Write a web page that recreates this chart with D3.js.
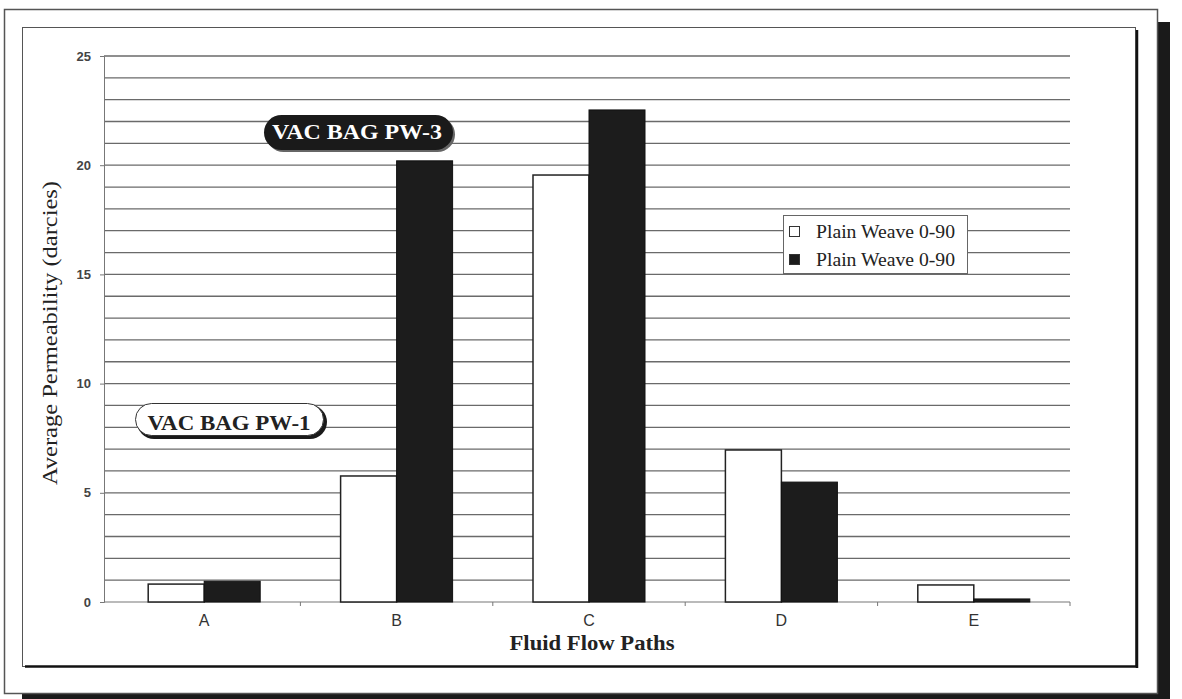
<!DOCTYPE html>
<html><head><meta charset="utf-8">
<script src="https://cdn.jsdelivr.net/npm/d3@7"></script>
<style>body{margin:0;background:#fff}svg{display:block}</style>
</head><body>
<svg id="c" width="1182" height="699"></svg>
<script>
const categories = ["A","B","C","D","E"];
const seriesNames = ["Plain Weave 0-90","Plain Weave 0-90"];
const seriesWhite = [0.82, 5.77, 19.55, 6.96, 0.78];
const seriesBlack = [0.95, 20.2, 22.53, 5.49, 0.14];
const yTicks = [0,5,10,15,20,25];
const gridVals = d3.range(0,26,1);

const svg = d3.select("#c");
const L=108, R=1070, T=56, B=602;
const x = d3.scaleBand().domain(categories).range([L,R]);
const sub = d3.scaleBand().domain([0,1]).range([0,112]);
const y = d3.scaleLinear().domain([0,25]).range([B,T]);
const serif = "Liberation Serif, Times New Roman, serif";
const sans = "Liberation Sans, Arial, sans-serif";

// outer frame + shadow
svg.append("rect").attr("x",1158).attr("y",22).attr("width",12).attr("height",677).attr("fill","#1a1a1a");
svg.append("rect").attr("x",22).attr("y",694).attr("width",1148).attr("height",5).attr("fill","#1a1a1a");
svg.append("rect").attr("x",4.5).attr("y",9.5).attr("width",1153).attr("height",684).attr("fill","#fff").attr("stroke","#555").attr("stroke-width",1.5);
// inner frame
svg.append("rect").attr("x",22.5).attr("y",27.5).attr("width",1113).attr("height",639).attr("fill","#fff").attr("stroke","#555").attr("stroke-width",1);
svg.append("line").attr("x1",1137).attr("x2",1137).attr("y1",30).attr("y2",668).attr("stroke","#111").attr("stroke-width",2.5);
svg.append("line").attr("x1",25).attr("x2",1138).attr("y1",666.5).attr("y2",666.5).attr("stroke","#111").attr("stroke-width",2.5);

// gridlines
svg.append("g").selectAll("line").data(gridVals.filter(d=>d>0)).join("line")
  .attr("x1",104).attr("x2",R).attr("y1",d=>y(d)).attr("y2",d=>y(d))
  .attr("stroke","#6a6a6a").attr("stroke-width",1.3);

// y axis
const ya = svg.append("g").attr("transform",`translate(104,0)`)
  .call(d3.axisLeft(y).tickValues(yTicks).tickSize(4).tickFormat(d3.format("d")));
ya.select(".domain").attr("stroke","#777");
ya.selectAll(".tick line").attr("stroke","#777");
ya.selectAll("text").attr("font-family",sans).attr("font-size",13).attr("font-weight","bold").attr("fill","#444").attr("dx",-6);

// x axis
svg.append("line").attr("x1",104).attr("x2",R).attr("y1",B).attr("y2",B).attr("stroke","#777").attr("stroke-width",1.2);
svg.append("g").selectAll("line").data(categories).join("line")
  .attr("x1",(d,i)=>L+x.step()*(i+1)).attr("x2",(d,i)=>L+x.step()*(i+1))
  .attr("y1",B).attr("y2",B+4).attr("stroke","#777");
svg.append("g").selectAll("text").data(categories).join("text")
  .attr("x",d=>x(d)+x.bandwidth()/2).attr("y",B+24).attr("text-anchor","middle")
  .attr("font-family",sans).attr("font-size",16).attr("fill","#333").text(d=>d);

// bars
const bx = d => x(d)+x.bandwidth()/2-56;
svg.append("g").selectAll("rect").data(categories).join("rect")
  .attr("x",d=>bx(d)+sub(0)).attr("width",sub.bandwidth())
  .attr("y",(d,i)=>y(seriesWhite[i])).attr("height",(d,i)=>B-y(seriesWhite[i]))
  .attr("fill","#fff").attr("stroke","#222").attr("stroke-width",1.5);
svg.append("g").selectAll("rect").data(categories).join("rect")
  .attr("x",d=>bx(d)+sub(1)).attr("width",sub.bandwidth())
  .attr("y",(d,i)=>y(seriesBlack[i])).attr("height",(d,i)=>B-y(seriesBlack[i]))
  .attr("fill","#1c1c1c").attr("stroke","#111").attr("stroke-width",1);

// axis titles
svg.append("text").attr("transform","translate(57,333) rotate(-90)").attr("text-anchor","middle")
  .attr("font-family",serif).attr("font-size",20).attr("fill","#222")
  .attr("textLength",304).attr("lengthAdjust","spacingAndGlyphs")
  .text("Average Permeability (darcies)");
svg.append("text").attr("x",592).attr("y",650).attr("text-anchor","middle")
  .attr("font-family",serif).attr("font-size",20).attr("font-weight","bold").attr("fill","#222")
  .attr("textLength",165).attr("lengthAdjust","spacingAndGlyphs")
  .text("Fluid Flow Paths");

// legend
const lg = svg.append("g");
lg.append("rect").attr("x",783.5).attr("y",215.5).attr("width",184).attr("height",58).attr("fill","#fff").attr("stroke","#666");
[0,1].forEach(i=>{
  const yy = 232 + i*28;
  lg.append("rect").attr("x",789.5).attr("y",yy-5.5).attr("width",10).attr("height",10)
    .attr("fill",i? "#1c1c1c":"#fff").attr("stroke","#333");
  lg.append("text").attr("x",816).attr("y",yy+6).attr("font-family",serif)
    .attr("font-size",18).attr("fill","#222")
    .attr("textLength",139).attr("lengthAdjust","spacingAndGlyphs").text(seriesNames[i]);
});

// callouts
svg.append("rect").attr("x",266).attr("y",117).attr("width",189).attr("height",35).attr("rx",17.5).attr("fill","#666");
svg.append("rect").attr("x",264).attr("y",115).attr("width",189).attr("height",35).attr("rx",17.5).attr("fill","#1a1a1a");
svg.append("text").attr("x",357).attr("y",139).attr("text-anchor","middle").attr("font-family",serif)
  .attr("font-size",21).attr("font-weight","bold").attr("fill","#fff")
  .attr("textLength",170).attr("lengthAdjust","spacingAndGlyphs").text("VAC BAG PW-3");

svg.append("rect").attr("x",137).attr("y",405).attr("width",190).attr("height",34).attr("rx",17).attr("fill","#1a1a1a");
svg.append("rect").attr("x",135.5).attr("y",403.5).attr("width",188).attr("height",32).attr("rx",16).attr("fill","#fff").attr("stroke","#333");
svg.append("text").attr("x",229).attr("y",430).attr("text-anchor","middle").attr("font-family",serif)
  .attr("font-size",22).attr("font-weight","bold").attr("fill","#222")
  .attr("textLength",163).attr("lengthAdjust","spacingAndGlyphs").text("VAC BAG PW-1");
</script>
</body></html>
